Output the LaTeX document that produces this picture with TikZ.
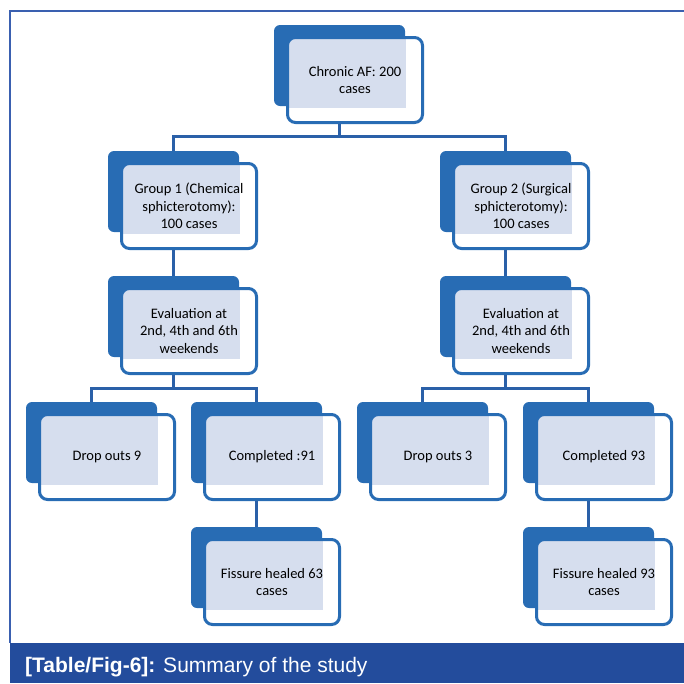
\documentclass[tikz,border=0pt]{standalone}
\usepackage{fontspec}
\setmainfont{Carlito}
\newfontfamily\capfont{Liberation Sans}
\usepackage{xcolor}
\definecolor{boxblue}{RGB}{40,108,180}
\definecolor{linkblue}{RGB}{42,96,168}
\definecolor{dotfill}{RGB}{214,222,238}
\definecolor{barblue}{RGB}{35,76,156}
\definecolor{frameblue}{RGB}{58,96,176}

\begin{document}
\begin{tikzpicture}[x=1pt,y=-1pt,
  backbox/.style={fill=boxblue, rounded corners=6pt, minimum width=131pt, minimum height=81pt, inner sep=0pt},
  frontbox/.style={draw=boxblue, line width=3pt, fill=white, rounded corners=8pt,
    minimum width=135pt, minimum height=85pt, inner sep=0.75pt, align=center,
    font=\fontsize{14.5}{17.5}\selectfont,
    path picture={\fill[dotfill, sharp corners] ([xshift=1.5pt,yshift=-1.5pt]path picture bounding box.north west) rectangle ([xshift=-17pt,yshift=15pt]path picture bounding box.south east);}},
  link/.style={draw=linkblue, line width=3pt}]

\useasboundingbox (0,0) rectangle (684,683);

\draw [frameblue, line width=2pt] (684,11) -- (10,11) -- (10,643);
\fill [barblue] (10,643) rectangle (684,683);
\node [anchor=base west, inner sep=0pt, text=white, font=\capfont\fontsize{21}{25}\selectfont] (caption) at (25,672) {\textbf{[Table/Fig-6]:} Summary of the study};

\node [backbox] (topb) at (339.5,65.5) {};
\node [frontbox] (top) at (355,80) {Chronic AF: 200\\cases};

\node [backbox] (g1b) at (173.5,191.5) {};
\node [frontbox] (g1) at (189,206) {Group 1 (Chemical\\sphicterotomy):\\100 cases};
\node [backbox] (g2b) at (505.5,191.5) {};
\node [frontbox] (g2) at (521,206) {Group 2 (Surgical\\sphicterotomy):\\100 cases};

\node [backbox] (e1b) at (173.5,316.5) {};
\node [frontbox] (e1) at (189,331) {Evaluation at\\2nd, 4th and 6th\\weekends};
\node [backbox] (e2b) at (505.5,316.5) {};
\node [frontbox] (e2) at (521,331) {Evaluation at\\2nd, 4th and 6th\\weekends};

\node [backbox] (d1b) at (91.5,442.5) {};
\node [frontbox] (d1) at (107,457) {Drop outs 9};
\node [backbox] (c1b) at (256.5,442.5) {};
\node [frontbox] (c1) at (272,457) {Completed :91};
\node [backbox] (d2b) at (422.5,442.5) {};
\node [frontbox] (d2) at (438,457) {Drop outs 3};
\node [backbox] (c2b) at (588.5,442.5) {};
\node [frontbox] (c2) at (604,457) {Completed 93};

\node [backbox] (f1b) at (256.5,567.5) {};
\node [frontbox] (f1) at (272,582) {Fissure healed 63\\cases};
\node [backbox] (f2b) at (588.5,567.5) {};
\node [frontbox] (f2) at (604,582) {Fissure healed 93\\cases};

\draw [link] (topb |- top.south) -- ++(0,12) -| (g1b.north);
\draw [link] (topb |- top.south) -- ++(0,12) -| (g2b.north);
\draw [link] (g1b |- g1.south) -- (e1b.north);
\draw [link] (g2b |- g2.south) -- (e2b.north);
\draw [link] (e1b |- e1.south) -- ++(0,13) -| (d1b.north);
\draw [link] (e1b |- e1.south) -- ++(0,13) -| (c1b.north);
\draw [link] (e2b |- e2.south) -- ++(0,13) -| (d2b.north);
\draw [link] (e2b |- e2.south) -- ++(0,13) -| (c2b.north);
\draw [link] (c1b |- c1.south) -- (f1b.north);
\draw [link] (c2b |- c2.south) -- (f2b.north);

\end{tikzpicture}
\end{document}
